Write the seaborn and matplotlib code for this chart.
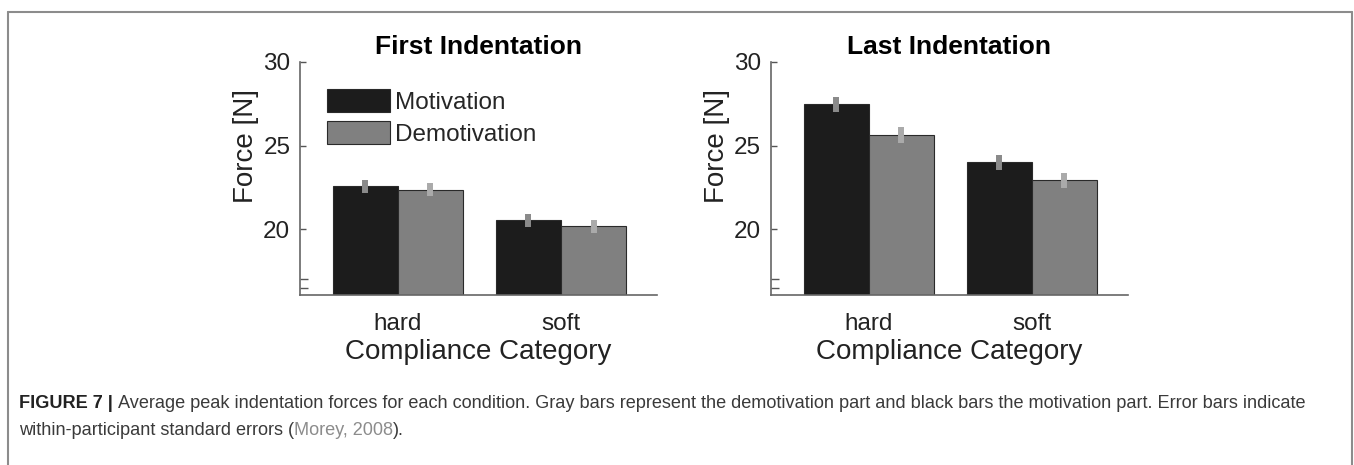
import numpy as np
import matplotlib.pyplot as plt
import seaborn as sns
import pandas as pd
from matplotlib.lines import Line2D

# data
categories = ["hard", "soft"]
conditions = ["Motivation", "Demotivation"]

first_motivation = [22.56, 20.54]
first_demotivation = [22.36, 20.18]
first_se_motivation = [0.40, 0.40]
first_se_demotivation = [0.40, 0.40]

last_motivation = [27.46, 24.00]
last_demotivation = [25.65, 22.92]
last_se_motivation = [0.44, 0.43]
last_se_demotivation = [0.47, 0.46]

bar_colors = ["#1c1c1c", "#808080"]
err_colors = ["#8a8a8a", "#aaaaaa"]

sns.set_style("ticks")
plt.rcParams["font.family"] = ["Liberation Sans", "DejaVu Sans"]

fig = plt.figure(figsize=(13.54, 4.65), dpi=100)
ax1 = fig.add_axes([0.2216, 0.3656, 0.2637, 0.5011])
ax2 = fig.add_axes([0.5694, 0.3656, 0.2637, 0.5011])


def make_panel(ax, title, mot, demot, se_mot, se_demot, show_legend):
    df = pd.DataFrame({
        "Category": categories * 2,
        "Force": mot + demot,
        "Condition": [conditions[0]] * len(mot) + [conditions[1]] * len(demot),
    })
    sns.barplot(data=df, x="Category", y="Force", hue="Condition",
                hue_order=conditions, palette=bar_colors, errorbar=None,
                width=0.8, edgecolor="#2a2a2a", linewidth=0.8, saturation=1,
                ax=ax, legend=show_legend)

    # error bars on top of each bar
    for cont, vals, ses, col in zip(ax.containers, [mot, demot], [se_mot, se_demot], err_colors):
        xs = [p.get_x() + p.get_width() / 2 for p in cont.patches]
        ax.vlines(xs, np.array(vals) - np.array(ses), np.array(vals) + np.array(ses),
                  color=col, linewidth=4.3, zorder=5)

    ax.set_xlim(-0.6, 1.59)
    ax.set_ylim(16.07, 30)
    ax.set_yticks([20, 25, 30])
    ax.set_yticks([16.5, 17], minor=True)
    ax.tick_params(axis="y", direction="in", length=4, width=1, color="#555555",
                   labelsize=17.5, pad=7, labelcolor="#222222")
    ax.tick_params(axis="y", which="minor", direction="in", length=6, width=1, color="#555555")
    ax.tick_params(axis="x", length=0, labelsize=17.5, pad=13, labelcolor="#222222")
    for s in ["top", "right"]:
        ax.spines[s].set_visible(False)
    for s in ["left", "bottom"]:
        ax.spines[s].set_color("#666666")
        ax.spines[s].set_linewidth(1.2)

    ax.set_xlabel("Compliance Category", fontsize=20, labelpad=3, color="#222222")
    ax.set_ylabel("Force [N]", fontsize=20, color="#222222")
    ax.yaxis.set_label_coords(-0.115, 0.64)
    ax.set_title(title, fontsize=19, fontweight="bold", pad=6, color="black")

    if show_legend:
        ax.legend(loc="upper left", bbox_to_anchor=(0.075, 0.885), frameon=False,
                  fontsize=17.5, handlelength=2.6, handleheight=1.1,
                  handletextpad=0.2, labelspacing=0.3, borderpad=0, borderaxespad=0)


make_panel(ax1, "First Indentation", first_motivation, first_demotivation,
           first_se_motivation, first_se_demotivation, True)
make_panel(ax2, "Last Indentation", last_motivation, last_demotivation,
           last_se_motivation, last_se_demotivation, False)

# frame around the figure
border = dict(color="#8c8c8c", linewidth=1.5, transform=fig.transFigure)
fig.add_artist(Line2D([8 / 1354, 1352 / 1354], [1 - 12 / 465, 1 - 12 / 465], **border))
fig.add_artist(Line2D([8 / 1354, 8 / 1354], [0, 1 - 12 / 465], **border))
fig.add_artist(Line2D([1352 / 1354, 1352 / 1354], [0, 1 - 12 / 465], **border))

# caption, written piece by piece
fig.canvas.draw()
renderer = fig.canvas.get_renderer()
cap_size = 13.1
cap_color = "#3a3a3a"


def put_pieces(pieces, x0, y):
    x = x0
    for txt, weight, col in pieces:
        t = fig.text(x, y, txt, fontsize=cap_size, fontweight=weight, color=col,
                     va="center", ha="left")
        bb = t.get_window_extent(renderer)
        x = x + bb.width / fig.bbox.width


put_pieces([("FIGURE 7 | ", "bold", "#222222"),
            ("Average peak indentation forces for each condition. Gray bars represent the demotivation "
             "part and black bars the motivation part. Error bars indicate", "normal", cap_color)],
           19 / 1354, 1 - 403 / 465)
put_pieces([("within-participant standard errors (", "normal", cap_color),
            ("Morey, 2008", "normal", "#8c8c8c"),
            (").", "normal", cap_color)],
           19 / 1354, 1 - 430 / 465)

plt.savefig("out.png", dpi=100)
